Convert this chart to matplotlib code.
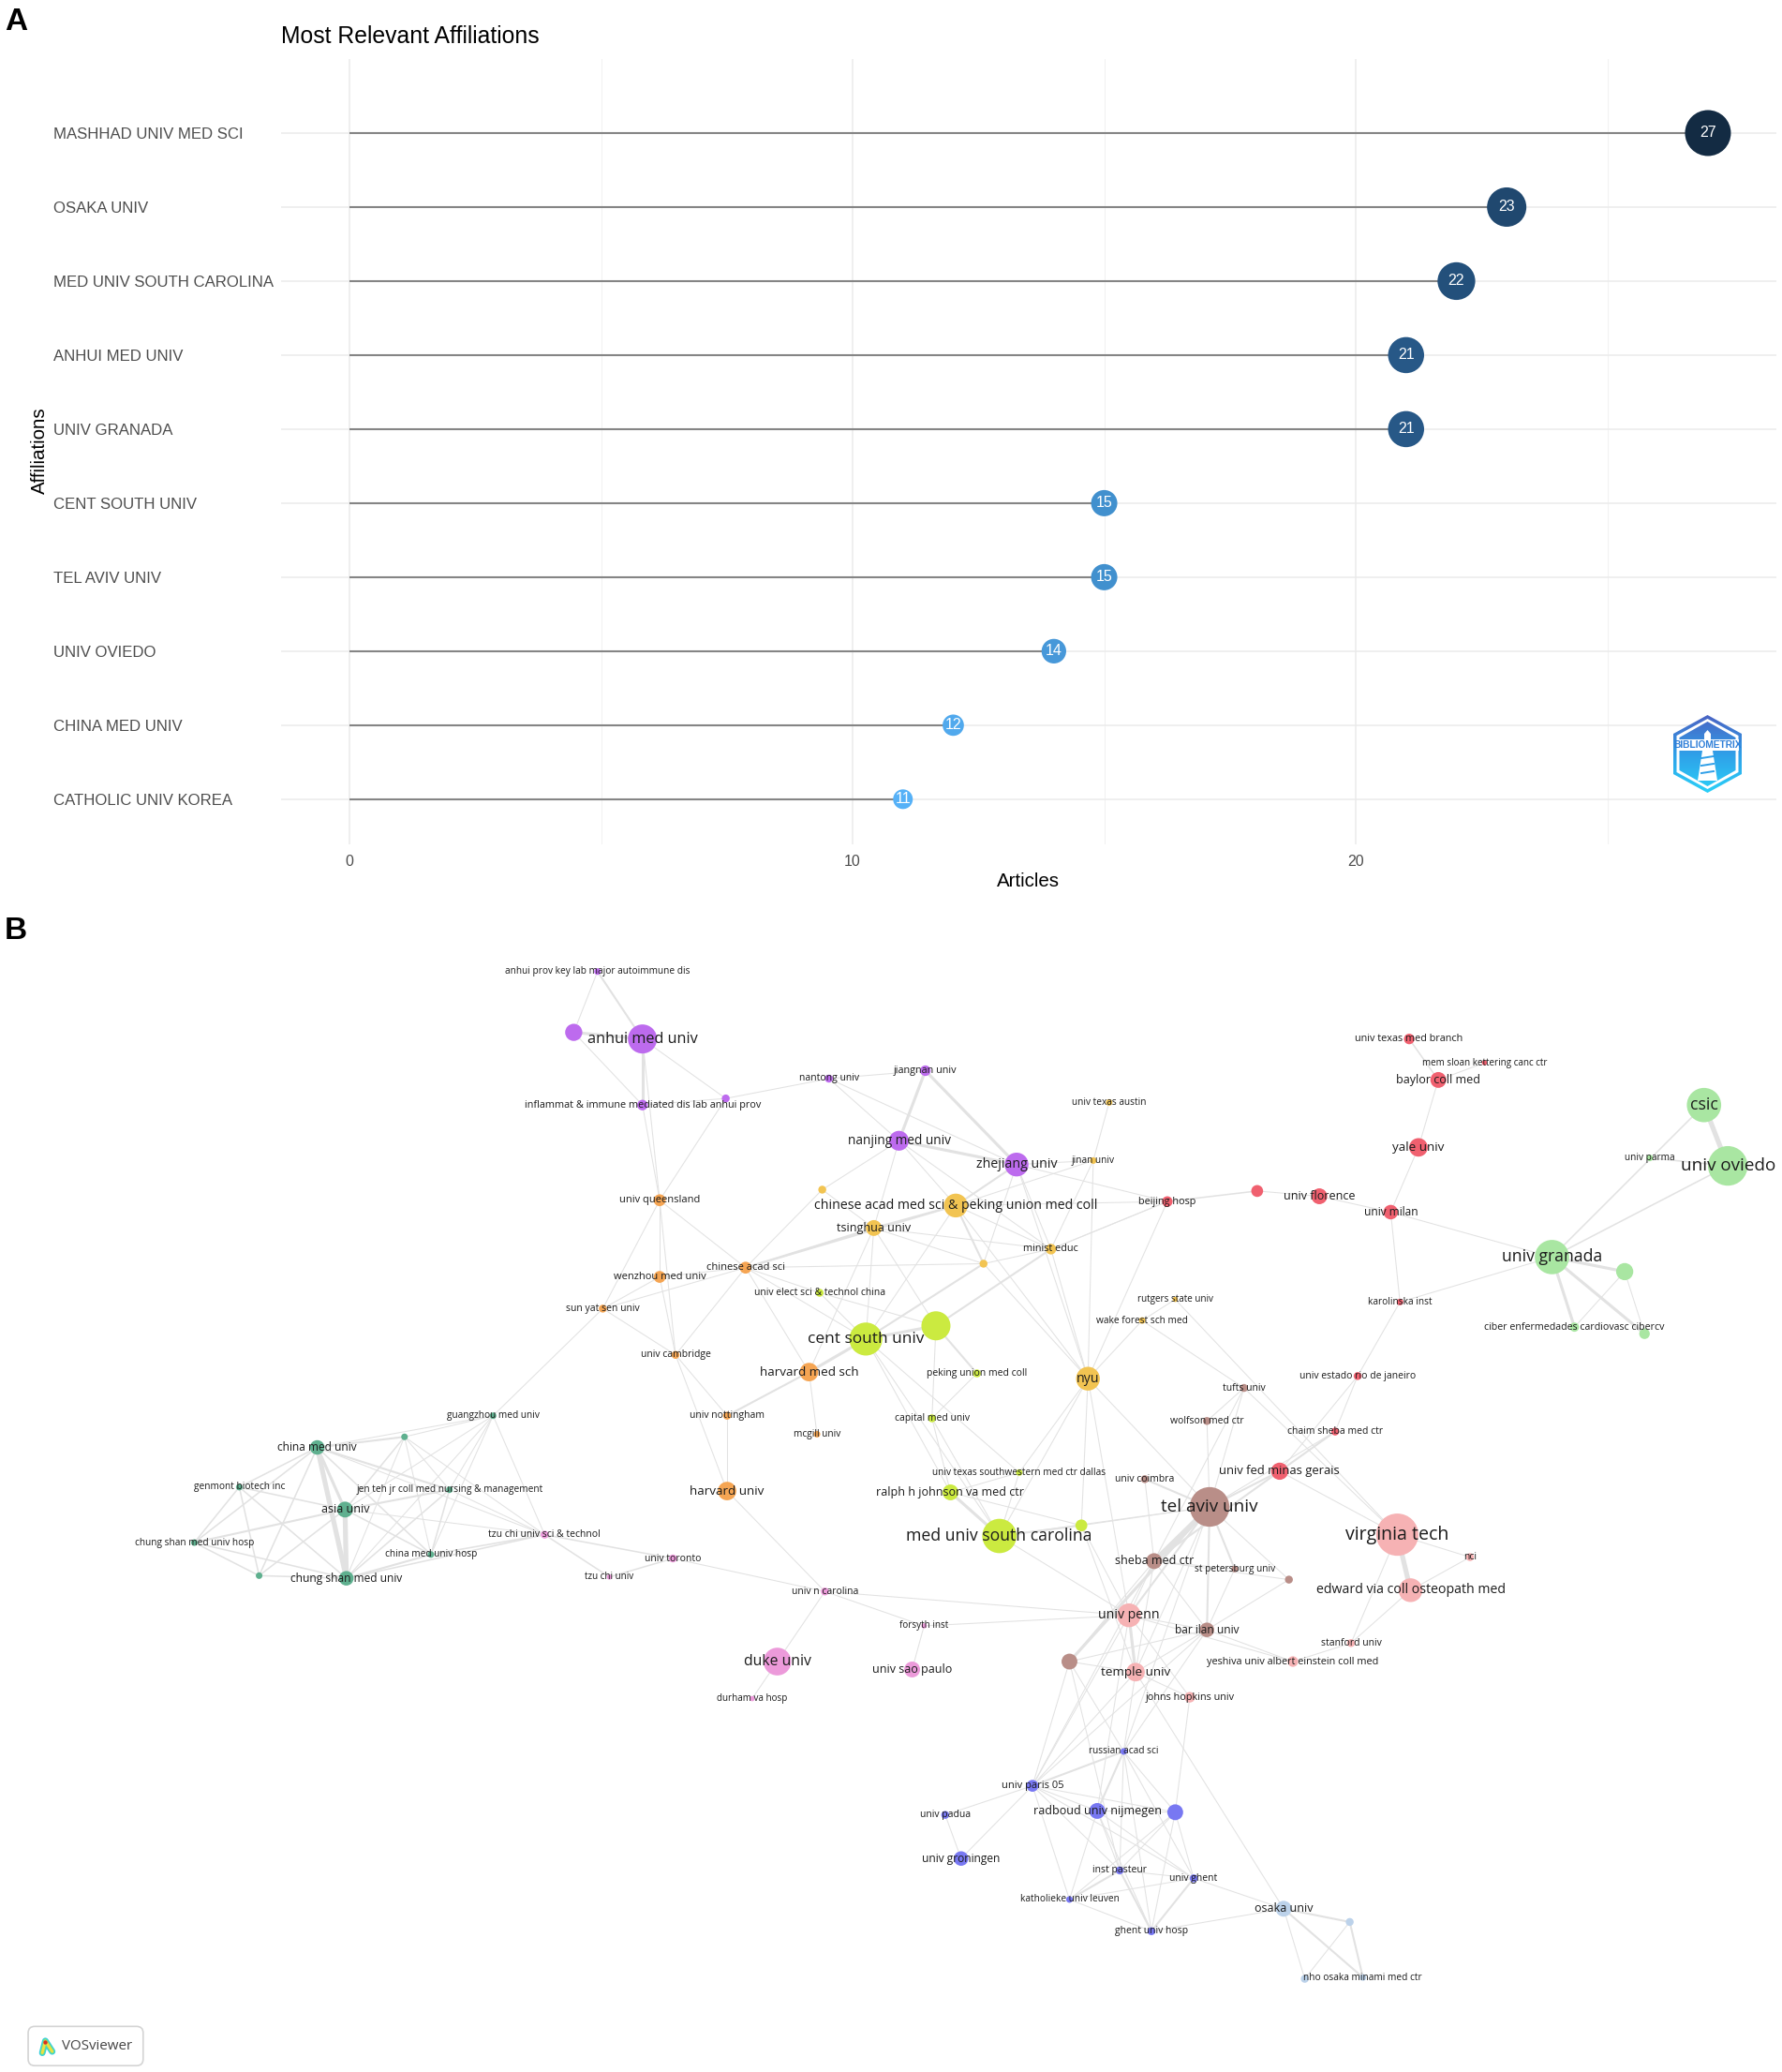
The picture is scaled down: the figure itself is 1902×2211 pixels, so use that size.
#!/usr/bin/env python3
import numpy as np
import matplotlib
matplotlib.use("Agg")
import matplotlib.pyplot as plt
from matplotlib.collections import LineCollection
from matplotlib.colors import LinearSegmentedColormap
from matplotlib.patches import Polygon, FancyBboxPatch

W, H = 1902, 2211

# panel A
affiliations = ["MASHHAD UNIV MED SCI", "OSAKA UNIV", "MED UNIV SOUTH CAROLINA", "ANHUI MED UNIV",
                "UNIV GRANADA", "CENT SOUTH UNIV", "TEL AVIV UNIV", "UNIV OVIEDO",
                "CHINA MED UNIV", "CATHOLIC UNIV KOREA"]
articles = [27, 23, 22, 21, 21, 15, 15, 14, 12, 11]

# panel B: map coordinates, weight, cluster
node_key = ["aprov", "p1", "anhui", "inflam", "p2", "nantong", "jiangnan", "nanjing", "zhejiang",
            "y1", "cams", "tsinghua", "minist", "y2", "austin", "jinan", "nyu", "rutgers", "wake",
            "queens", "cas", "wenzhou", "sunyat", "cambridge", "hms", "nott", "mcgill", "harvard",
            "elect", "csu", "l1", "pumc", "capital", "utsw", "ralph", "musc", "l2",
            "guangzhou", "cmu", "t1", "genmont", "jenteh", "asia", "cmuh", "cshosp", "t2", "csmu",
            "tzusci", "tzu", "toronto", "unc", "forsyth", "duke", "saopaulo", "durham",
            "utmb", "msk", "baylor", "yale", "r1", "florence", "beijing", "milan", "karolinska",
            "estado", "chaim", "minas",
            "csic", "oviedo", "parma", "granada", "g1", "ciber", "g2",
            "tufts", "wolfson", "coimbra", "telaviv", "sheba", "stpete", "b1", "barilan", "b2",
            "vt", "nci", "edward", "penn", "stanford", "yeshiva", "temple", "jhu",
            "russian", "paris", "radboud", "bl1", "padua", "groningen", "pasteur", "ghent", "leuven", "ghosp",
            "osaka", "lb1", "nho1", "nho2"]
node_label = ["anhui prov key lab major autoimmune dis", "", "anhui med univ",
              "inflammat & immune mediated dis lab anhui prov", "", "nantong univ", "jiangnan univ",
              "nanjing med univ", "zhejiang univ",
              "", "chinese acad med sci & peking union med coll", "tsinghua univ", "minist educ", "",
              "univ texas austin", "jinan univ", "nyu", "rutgers state univ", "wake forest sch med",
              "univ queensland", "chinese acad sci", "wenzhou med univ", "sun yat sen univ", "univ cambridge",
              "harvard med sch", "univ nottingham", "mcgill univ", "harvard univ",
              "univ elect sci & technol china", "cent south univ", "", "peking union med coll", "capital med univ",
              "univ texas southwestern med ctr dallas", "ralph h johnson va med ctr", "med univ south carolina", "",
              "guangzhou med univ", "china med univ", "", "genmont biotech inc",
              "jen teh jr coll med nursing & management", "asia univ", "china med univ hosp",
              "chung shan med univ hosp", "", "chung shan med univ",
              "tzu chi univ sci & technol", "tzu chi univ", "univ toronto", "univ n carolina", "forsyth inst",
              "duke univ", "univ sao paulo", "durham va hosp",
              "univ texas med branch", "mem sloan kettering canc ctr", "baylor coll med", "yale univ", "",
              "univ florence", "beijing hosp", "univ milan", "karolinska inst", "univ estado rio de janeiro",
              "chaim sheba med ctr", "univ fed minas gerais",
              "csic", "univ oviedo", "univ parma", "univ granada", "", "ciber enfermedades cardiovasc cibercv", "",
              "tufts univ", "wolfson med ctr", "univ coimbra", "tel aviv univ", "sheba med ctr",
              "st petersburg univ", "", "bar ilan univ", "",
              "virginia tech", "nci", "edward via coll osteopath med", "univ penn", "stanford univ",
              "yeshiva univ albert einstein coll med", "temple univ", "johns hopkins univ",
              "russian acad sci", "univ paris 05", "radboud univ nijmegen", "", "univ padua", "univ groningen",
              "inst pasteur", "univ ghent", "katholieke univ leuven", "ghent univ hosp",
              "osaka univ", "", "", "nho osaka minami med ctr"]
node_x = [452, 434, 486, 486, 549, 627, 700, 680, 769,
          622, 723, 661, 795, 744, 839, 827, 823, 889, 864,
          499, 564, 499, 456, 511, 612, 550, 618, 550,
          620, 655, 708, 739, 705, 771, 719, 756, 818,
          373, 240, 306, 181, 340, 261, 326, 147, 196, 262,
          412, 461, 509, 624, 699, 588, 690, 569,
          1066, 1123, 1088, 1073, 951, 998, 883, 1052, 1059, 1027, 1010, 968,
          1289, 1307, 1248, 1174, 1229, 1191, 1244,
          941, 913, 866, 915, 873, 934, 975, 913, 809,
          1057, 1112, 1067, 854, 1022, 978, 859, 900,
          850, 781, 830, 889, 715, 727, 847, 903, 809, 871,
          971, 1021, 987, 1031]
node_y = [735, 781, 786, 836, 831, 816, 810, 863, 881,
          900, 912, 929, 945, 956, 834, 878, 1043, 983, 999,
          908, 959, 966, 990, 1025, 1038, 1071, 1085, 1128,
          978, 1013, 1003, 1039, 1073, 1114, 1129, 1162, 1154,
          1071, 1095, 1087, 1125, 1127, 1142, 1176, 1167, 1192, 1194,
          1161, 1193, 1179, 1204, 1230, 1257, 1263, 1285,
          786, 804, 817, 868, 901, 905, 909, 917, 985, 1041, 1083, 1113,
          836, 882, 876, 951, 962, 1004, 1009,
          1050, 1075, 1119, 1140, 1181, 1187, 1195, 1233, 1257,
          1161, 1178, 1203, 1222, 1243, 1257, 1265, 1284,
          1325, 1351, 1370, 1371, 1373, 1406, 1415, 1421, 1437, 1461,
          1444, 1454, 1497, 1496]
node_weight = [5, 13, 22, 8, 6, 6, 8, 15, 18,
               6, 18, 12, 8, 6, 5, 5, 18, 4, 5,
               9, 9, 9, 6, 6, 14, 6, 5, 14,
               6, 25, 22, 6, 6, 5, 12, 26, 9,
               5, 11, 5, 5, 5, 12, 5, 5, 5, 11,
               6, 4, 6, 6, 4, 21, 12, 4,
               8, 4, 12, 14, 9, 12, 8, 11, 5, 6, 6, 13,
               26, 30, 5, 26, 13, 7, 8,
               6, 6, 6, 30, 12, 5, 6, 11, 12,
               32, 6, 18, 18, 6, 8, 14, 8,
               5, 9, 12, 12, 6, 11, 6, 6, 5, 6,
               12, 6, 6, 5]
node_cluster = (["purple"] * 9 + ["yellow"] * 10 + ["orange"] * 9 + ["lime"] * 9 + ["teal"] * 10
                + ["pink"] * 8 + ["red"] * 12 + ["green"] * 7 + ["brown"] * 9 + ["salmon"] * 8
                + ["blue"] * 10 + ["pale"] * 4)
cluster_colors = {"purple": "#bd6bee", "yellow": "#f2c452", "orange": "#f5a553", "lime": "#cbea40",
                  "teal": "#5fb08f", "pink": "#ec9ada", "red": "#f0606f", "green": "#a9e6a2",
                  "brown": "#b98e88", "salmon": "#f6b2b4", "blue": "#7878f2", "pale": "#bcd2ea"}

links_thin = """aprov-p1 anhui-queens anhui-p2 p1-inflam inflam-queens inflam-p2 p2-queens p2-nantong
nantong-jiangnan nantong-nanjing nantong-zhejiang nanjing-y1 nanjing-cams nanjing-tsinghua nanjing-minist
zhejiang-y2 zhejiang-jinan zhejiang-minist zhejiang-nyu zhejiang-beijing y1-tsinghua
cams-minist cams-csu cams-nyu tsinghua-minist tsinghua-y2 tsinghua-csu tsinghua-hms tsinghua-l1
cas-y2 cas-wenzhou cas-sunyat cas-cambridge cas-hms cas-csu cas-queens cas-y1
y2-minist y2-nyu minist-nyu minist-jinan minist-beijing austin-jinan jinan-nyu jinan-cams
beijing-cams beijing-nyu beijing-minist wake-nyu wake-rutgers wake-tufts
queens-wenzhou queens-sunyat queens-cambridge wenzhou-sunyat wenzhou-cambridge sunyat-cambridge
sunyat-guangzhou cambridge-nott cambridge-harvard hms-mcgill nott-harvard harvard-unc toronto-unc
guangzhou-tzusci elect-csu elect-l1 elect-cas l1-capital pumc-capital csu-ralph csu-musc csu-utsw
capital-ralph capital-musc utsw-ralph utsw-musc ralph-l2 l2-telaviv l2-nyu musc-nyu nyu-utsw nyu-telaviv
nyu-penn l2-temple l2-penn musc-penn musc-telaviv
cmu-guangzhou cmu-tzusci t1-tzusci t1-csmu guangzhou-csmu t1-guangzhou t1-jenteh t1-cmuh
guangzhou-jenteh guangzhou-asia guangzhou-cmuh jenteh-tzusci asia-tzusci
unc-penn unc-duke unc-forsyth forsyth-penn duke-durham forsyth-saopaulo
msk-baylor baylor-yale yale-milan milan-florence milan-karolinska milan-granada florence-r1
karolinska-granada karolinska-estado estado-chaim estado-minas chaim-telaviv tufts-wolfson tufts-sheba
tufts-telaviv wolfson-telaviv coimbra-sheba rutgers-vt minas-vt tufts-vt
g1-ciber g1-g2
telaviv-b1 telaviv-temple sheba-stpete sheba-b1 sheba-barilan sheba-penn sheba-b2 sheba-temple
barilan-b1 barilan-penn barilan-b2 barilan-yeshiva barilan-temple stpete-barilan b2-russian b2-paris
b2-temple b2-pasteur vt-nci edward-nci vt-stanford edward-stanford stanford-yeshiva
penn-jhu temple-jhu penn-yeshiva temple-russian temple-paris temple-osaka jhu-bl1 penn-paris penn-radboud
sheba-paris barilan-russian barilan-paris telaviv-russian
russian-bl1 russian-ghent russian-pasteur russian-ghosp paris-padua paris-groningen paris-radboud paris-bl1
paris-leuven paris-pasteur paris-ghent padua-groningen radboud-leuven radboud-pasteur radboud-ghent
radboud-ghosp radboud-bl1 bl1-pasteur bl1-ghent bl1-ghosp bl1-leuven pasteur-ghent ghent-leuven
ghent-osaka leuven-ghosp ghosp-osaka osaka-nho1 lb1-nho1""".split()
links_soft = """cmu-genmont cmu-cmuh cmu-cshosp cmu-t2 t1-asia genmont-asia genmont-cshosp genmont-t2 genmont-csmu
jenteh-cmuh jenteh-csmu asia-cmuh asia-t2 cmuh-tzusci csmu-tzusci t2-csmu cshosp-csmu cshosp-t2
tzusci-tzu tzusci-toronto tzu-toronto utmb-baylor oviedo-parma beijing-r1 csic-granada oviedo-granada""".split()
links_mid = """aprov-anhui cams-tsinghua cams-zhejiang cams-y2 tsinghua-cas cas-cams y2-csu minist-l1 hms-nott
l1-pumc musc-l2 cmu-t1 cmu-jenteh jenteh-asia asia-cshosp cmuh-csmu chaim-minas minas-telaviv minas-sheba
coimbra-telaviv telaviv-penn telaviv-barilan telaviv-stpete russian-paris russian-radboud
pasteur-leuven pasteur-ghosp ghent-ghosp osaka-lb1 osaka-nho2 lb1-nho2""".split()
links_thick = """p1-anhui anhui-inflam jiangnan-nanjing jiangnan-zhejiang nanjing-zhejiang hms-csu csu-l1
ralph-musc cmu-asia granada-g1 granada-ciber granada-g2 telaviv-b2 penn-temple""".split()
links_heavy = ["csic-oviedo", "telaviv-sheba", "vt-edward", "cmu-csmu", "asia-csmu"]
link_groups = [(links_thin, 1.0), (links_soft, 1.5), (links_mid, 2.0), (links_thick, 3.0), (links_heavy, 5.0)]

plt.rcParams["font.family"] = ["Liberation Sans", "DejaVu Sans"]
fig = plt.figure(figsize=(W / 100, H / 100), dpi=100, facecolor="white")


def px_axes(x0, y0, x1, y1):
    return fig.add_axes([x0 / W, 1 - y1 / H, (x1 - x0) / W, (y1 - y0) / H])


# lollipops
ax = px_axes(300, 63, 1896, 901)
ypos = np.arange(len(articles))
art = np.array(articles)
cmap = LinearSegmentedColormap.from_list("blues", ["#132b43", "#24527e", "#3a84c0", "#56b1f7"])
ax.set_xlim(-1.36, 28.36)
ax.set_ylim(9.61, -1)
ax.set_axisbelow(True)
ax.set_xticks([0, 10, 20])
ax.set_xticks([5, 15, 25], minor=True)
ax.set_yticks(ypos)
ax.set_yticklabels(affiliations, ha="left", color="#4d4d4d", fontsize=12.05)
ax.tick_params(axis="y", length=0, pad=175)
ax.tick_params(axis="x", which="both", length=0, pad=8, labelcolor="#4d4d4d", labelsize=11.5)
ax.grid(True, which="major", color="#ebebeb", lw=1.1)
ax.grid(True, which="minor", axis="x", color="#f2f2f2", lw=0.8)
for s in ax.spines.values():
    s.set_visible(False)
ax.hlines(ypos, 0, art, color="#858585", lw=1.5, zorder=2)
diam = (art * 1.75 + 1.75) * 0.72
ax.scatter(art, ypos, s=diam ** 2, c=(27 - art) / 16.0, cmap=cmap, vmin=0, vmax=1, linewidths=0, zorder=3)
for xv, yv in zip(articles, ypos):
    ax.text(xv, yv, str(xv), color="white", ha="center", va="center", fontsize=11.5, zorder=4)
fig.text(300 / W, 1 - 39 / H, "Most Relevant Affiliations", fontsize=17.8, va="center", ha="left", color="black")
fig.text(42 / W, 1 - 481 / H, "Affiliations", fontsize=14.8, rotation=90, va="center", ha="center")
fig.text(1097 / W, 1 - 940 / H, "Articles", fontsize=14.8, va="center", ha="center")
fig.text(5 / W, 1 - 23 / H, "A", fontsize=24, fontweight="bold", va="center", ha="left")
fig.text(5 / W, 1 - 993 / H, "B", fontsize=24, fontweight="bold", va="center", ha="left")

# bibliometrix badge
lg = px_axes(1786, 763, 1859, 846)
grad_cmap = LinearSegmentedColormap.from_list("logo", ["#4a64c4", "#2f9fe8", "#2bd0f8"])
grad = np.linspace(0, 1, 64).reshape(-1, 1)
outer = Polygon([(36.5, 0), (73, 20), (73, 63), (36.5, 83), (0, 63), (0, 20)], transform=lg.transData, fc="none")
ring = [(36.5, 4), (69.5, 22), (69.5, 61), (36.5, 79), (3.5, 61), (3.5, 22)]
inner = Polygon([(36.5, 7), (66.5, 24), (66.5, 59), (36.5, 76), (6.5, 59), (6.5, 24)],
                transform=lg.transData, fc="none")
im = lg.imshow(grad, extent=(0, 73, 83, 0), cmap=grad_cmap, aspect="auto")
im.set_clip_path(outer)
lg.add_patch(Polygon(ring, fc="white", ec="none", zorder=2))
im2 = lg.imshow(grad, extent=(0, 73, 83, 0), cmap=grad_cmap, aspect="auto", zorder=3)
im2.set_clip_path(inner)
lg.fill_between([3.5, 69.5], 26, 38, color="white", lw=0, zorder=4)
lg.text(36.5, 32, "BIBLIOMETRIX", fontsize=7.4, fontweight="bold", color="#2f7fd8", ha="center", va="center", zorder=5)
lg.add_patch(Polygon([(33, 20), (36.5, 16), (40, 20), (40, 27), (33, 27)], fc="white", ec="none", zorder=5))
lg.add_patch(Polygon([(31, 38), (42, 38), (47, 70), (26, 70)], fc="white", ec="none", zorder=5))
for yb in (46, 54, 62):
    lg.plot([30, 43], [yb, yb - 2], color="#2f9fe8", lw=1.4, zorder=6)
lg.set_xlim(0, 73)
lg.set_ylim(83, 0)
lg.axis("off")

# network map
net = px_axes(0, 1000, W, H)
net.set_xlim(0, 1348)
net.set_ylim(1567.5, 1000 / H * 1567.5)
net.axis("off")
pos = {k: (x, y) for k, x, y in zip(node_key, node_x, node_y)}
for links, w in link_groups:
    segs = []
    for link in links:
        a, b = link.split("-")
        segs.append([pos[a], pos[b]])
    net.add_collection(LineCollection(segs, colors="#e2e2e2", linewidths=0.75 * w, zorder=1, capstyle="round"))

sizes = (np.array(node_weight) * 1.0145) ** 2
net.scatter(node_x, node_y, s=sizes, c=[cluster_colors[c] for c in node_cluster], linewidths=0, zorder=2)
for lab, x, y, d in zip(node_label, node_x, node_y, node_weight):
    if lab:
        fs = np.interp(d, [4, 6, 9, 14, 18, 22, 32], [7.1, 7.5, 8.0, 9.7, 10.2, 11.7, 14.1])
        net.text(x, y, lab, fontsize=fs, family=["Open Sans", "DejaVu Sans"], color="#1c1c1c",
                 ha="center", va="center", zorder=3)

# vosviewer badge
net.add_patch(FancyBboxPatch((21.3, 1533), 87, 29.7, boxstyle="round,pad=0,rounding_size=5", fc="white",
                             ec="#d4d4d4", lw=1.2, zorder=4))
net.text(46.5, 1548, "VOSviewer", fontsize=10.9, family=["Open Sans", "DejaVu Sans"], color="#444444",
         ha="left", va="center", zorder=5)
for col, lw in (("#35d0e0", 5.0), ("#6fe08a", 3.4), ("#f0e040", 2.0)):
    net.plot([32, 34.3, 39.5], [1553, 1544, 1552], color=col, lw=lw, zorder=5, solid_capstyle="round")
net.scatter([34.3], [1545], s=10, c="#d83020", linewidths=0, zorder=6)

fig.savefig("out.png", dpi=100, facecolor="white")
